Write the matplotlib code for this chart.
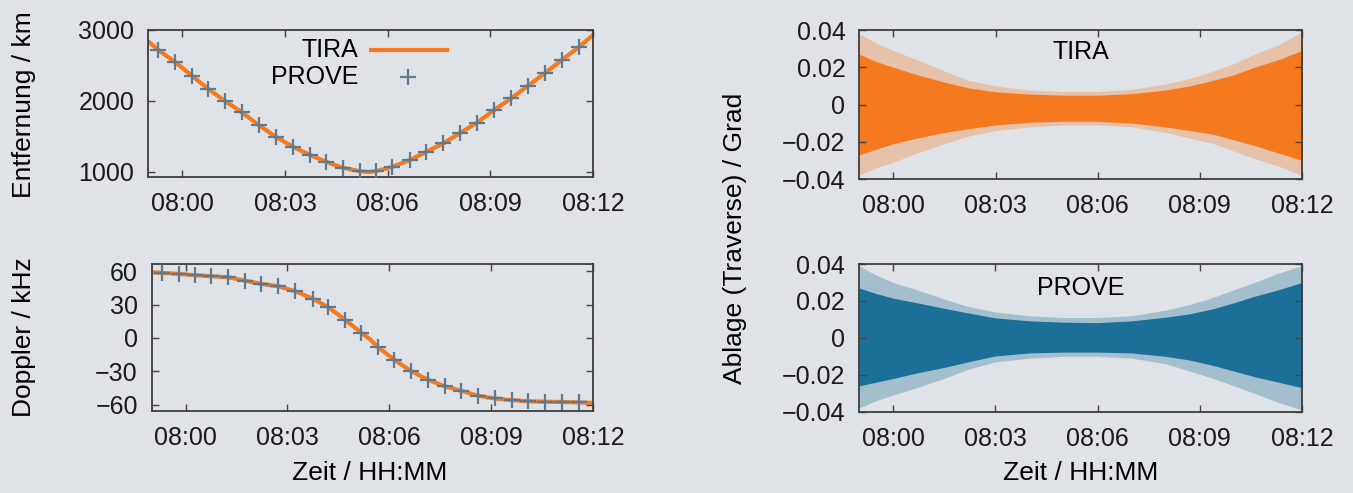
import numpy as np
import matplotlib
matplotlib.use('Agg')
import matplotlib.pyplot as plt
from matplotlib.ticker import FuncFormatter

plt.rcParams['font.family'] = ['Liberation Sans', 'DejaVu Sans']

# time in minutes after 08:00
prove_t = [-0.70, -0.20, 0.28, 0.76, 1.25, 1.74, 2.23, 2.73, 3.23, 3.74, 4.20, 4.69, 5.18,
           5.67, 6.14, 6.65, 7.13, 7.63, 8.10, 8.61, 9.11, 9.61, 10.09, 10.59, 11.09, 11.60]
prove_range = [2718, 2544, 2355, 2167, 1997, 1838, 1658, 1493, 1352, 1234, 1140, 1055, 1008,
               1008, 1069, 1164, 1281, 1400, 1541, 1691, 1870, 2035, 2209, 2388, 2576, 2764]
prove_doppler = [58.5, 57.6, 56.4, 55.5, 54.6, 51.6, 48.6, 46.5, 42.0, 35.4, 27.6, 16.5, 4.5,
                 -8.4, -19.5, -30.0, -37.5, -43.5, -47.4, -52.0, -54.5, -56.0, -57.0, -57.4, -57.7, -58.0]

tira_t = [-1.0, -0.70, -0.20, 0.28, 0.76, 1.25, 1.74, 2.23, 2.73, 3.23, 3.74, 4.20, 4.69, 5.18, 5.44,
          5.67, 6.14, 6.65, 7.13, 7.63, 8.10, 8.61, 9.11, 9.61, 10.09, 10.59, 11.09, 11.60, 12.0]
tira_range = [2840, 2718, 2544, 2355, 2167, 1997, 1838, 1658, 1493, 1352, 1234, 1140, 1055, 1008, 995,
              1008, 1069, 1164, 1281, 1400, 1541, 1691, 1870, 2035, 2209, 2388, 2576, 2764, 2930]
tira_doppler = [59.0, 58.5, 57.6, 56.4, 55.5, 54.6, 51.6, 48.6, 46.5, 42.0, 35.4, 27.6, 16.5, 4.5, -1.5,
                -8.4, -19.5, -30.0, -37.5, -43.5, -47.4, -52.0, -54.5, -56.0, -57.0, -57.4, -57.7, -58.0, -58.5]

# envelopes of the angular offset point clouds (deg), dense core and sparse fringe
env_t = [-1.0, -0.5, 0.0, 0.7, 1.5, 2.2, 3.0, 4.0, 5.0, 6.0, 7.0, 8.0, 8.7, 9.4, 10.0, 10.6, 11.3, 12.0]
tira_in_hi = [0.027, 0.023, 0.020, 0.016, 0.012, 0.009, 0.0068, 0.0056, 0.0050, 0.0050, 0.0058,
              0.0078, 0.0100, 0.0130, 0.0160, 0.0200, 0.0240, 0.029]
tira_in_lo = [-0.027, -0.024, -0.021, -0.018, -0.015, -0.013, -0.011, -0.0095, -0.009, -0.009, -0.010,
              -0.012, -0.014, -0.016, -0.019, -0.022, -0.026, -0.030]
tira_out_hi = [0.038, 0.033, 0.029, 0.024, 0.018, 0.013, 0.010, 0.0078, 0.0070, 0.0070, 0.0082,
               0.0110, 0.0140, 0.0180, 0.0220, 0.0270, 0.0320, 0.039]
tira_out_lo = [-0.038, -0.034, -0.031, -0.026, -0.021, -0.017, -0.014, -0.012, -0.011, -0.011, -0.012,
               -0.015, -0.018, -0.021, -0.025, -0.029, -0.033, -0.038]
prove_in_hi = [0.027, 0.024, 0.0215, 0.019, 0.016, 0.0135, 0.0108, 0.0092, 0.0085, 0.0082, 0.0092,
               0.0112, 0.0130, 0.0158, 0.0190, 0.0225, 0.0260, 0.030]
prove_in_lo = [-0.026, -0.024, -0.022, -0.019, -0.016, -0.013, -0.0098, -0.0082, -0.0077, -0.0077, -0.0082,
               -0.0100, -0.0120, -0.0150, -0.0180, -0.0210, -0.0240, -0.027]
prove_out_hi = [0.039, 0.034, 0.030, 0.026, 0.021, 0.017, 0.014, 0.012, 0.011, 0.011, 0.012,
                0.015, 0.018, 0.022, 0.026, 0.030, 0.035, 0.039]
prove_out_lo = [-0.038, -0.034, -0.031, -0.027, -0.022, -0.017, -0.013, -0.011, -0.010, -0.010, -0.011,
                -0.014, -0.018, -0.022, -0.026, -0.030, -0.035, -0.039]

time_ticks = [0, 3, 6, 9, 12]

bg = '#dfe2e6'
orange = '#f57a1f'
blue = '#1b6f98'
cross = '#5b7a93'
fs = 18

fig = plt.figure(figsize=(13.53, 4.93), dpi=100, facecolor=bg)
ax_r = fig.add_axes([0.1094, 0.6410, 0.3289, 0.2982])
ax_d = fig.add_axes([0.1121, 0.1669, 0.3262, 0.2976])
ax_t = fig.add_axes([0.6351, 0.6369, 0.3272, 0.3022])
ax_p = fig.add_axes([0.6349, 0.1649, 0.3274, 0.2996])

time_fmt = FuncFormatter(lambda v, p: '08:%02d' % int(round(v)))
deg_fmt = FuncFormatter(lambda v, p: '0' if abs(v) < 1e-9 else ('%.2f' % v).replace('-', '\u2212'))

for ax in (ax_r, ax_d, ax_t, ax_p):
    ax.set_facecolor(bg)
    ax.set_xlim(-1.0, 12.0)
    ax.set_xticks(time_ticks)
    ax.xaxis.set_major_formatter(time_fmt)
    ax.tick_params(direction='in', top=True, right=True, length=5, width=1,
                   color='#444444', labelsize=fs, labelcolor='#1a1a1a')
    ax.tick_params(axis='x', pad=11)
    ax.tick_params(axis='y', pad=10)
    for s in ax.spines.values():
        s.set_color('#3c3c3c')
        s.set_linewidth(1.3)

# range
ax_r.plot(tira_t, tira_range, color=orange, lw=3, zorder=2)
ax_r.plot(prove_t, prove_range, ls='none', marker='+', ms=11, mew=1.6, color=cross, zorder=3)
ax_r.set_ylim(925, 3000)
ax_r.set_yticks([1000, 2000, 3000])

# legend drawn gnuplot-style
ax_r.text(0.472, 0.864, 'TIRA', transform=ax_r.transAxes, ha='right', va='center', fontsize=fs)
ax_r.plot([0.50, 0.671], [0.864, 0.864], transform=ax_r.transAxes, color=orange, lw=3)
ax_r.text(0.472, 0.682, 'PROVE', transform=ax_r.transAxes, ha='right', va='center', fontsize=fs)
ax_r.plot([0.585], [0.682], transform=ax_r.transAxes, marker='+', ms=11, mew=1.6, color=cross)

# doppler
ax_d.plot(tira_t, tira_doppler, color=orange, lw=3, zorder=2)
ax_d.plot(prove_t, prove_doppler, ls='none', marker='+', ms=11, mew=1.6, color=cross, zorder=3)
ax_d.set_ylim(-65.5, 66.5)
ax_d.set_yticks([-60, -30, 0, 30, 60])

# offsets
for ax, c, ohi, olo, ihi, ilo, name, ty in (
        (ax_t, orange, tira_out_hi, tira_out_lo, tira_in_hi, tira_in_lo, 'TIRA', 0.854),
        (ax_p, blue, prove_out_hi, prove_out_lo, prove_in_hi, prove_in_lo, 'PROVE', 0.84)):
    ax.fill_between(env_t, olo, ohi, color=c, alpha=0.3, lw=0)
    ax.fill_between(env_t, ilo, ihi, color=c, alpha=1.0, lw=0)
    ax.set_ylim(-0.04, 0.04)
    ax.set_yticks([-0.04, -0.02, 0, 0.02, 0.04])
    ax.yaxis.set_major_formatter(deg_fmt)
    ax.text(0.5, ty, name, transform=ax.transAxes, ha='center', va='center', fontsize=fs)

fig.text(0.0177, 0.788, 'Entfernung / km', rotation=90, ha='center', va='center', fontsize=19)
fig.text(0.0177, 0.317, 'Doppler / kHz', rotation=90, ha='center', va='center', fontsize=19)
fig.text(0.543, 0.517, 'Ablage (Traverse) / Grad', rotation=90, ha='center', va='center', fontsize=19)
fig.text(0.2735, 0.0406, 'Zeit / HH:MM', ha='center', va='center', fontsize=19)
fig.text(0.799, 0.0406, 'Zeit / HH:MM', ha='center', va='center', fontsize=19)

fig.savefig('out.png', dpi=100, facecolor=bg)
